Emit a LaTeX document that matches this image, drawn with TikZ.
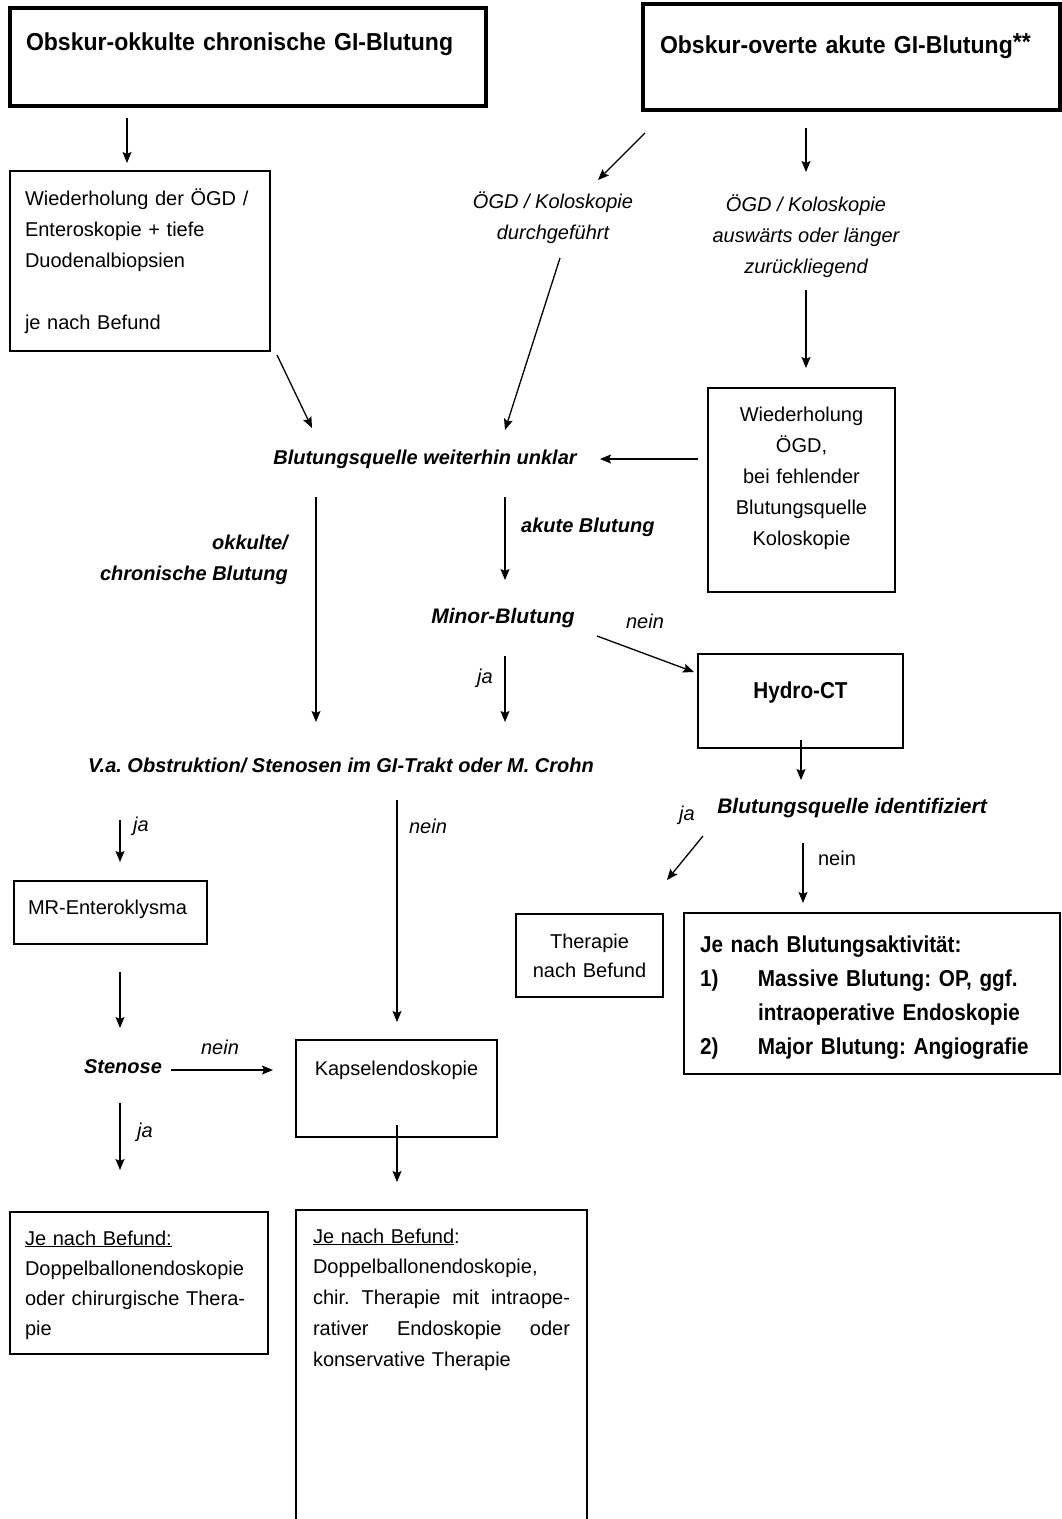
\documentclass[tikz,border=0pt]{standalone}
\usepackage{fontspec}
\setmainfont{Liberation Sans}
\newfontfamily\schmal{Liberation Sans}[FakeStretch=0.9]
\newfontfamily\titelfont{Liberation Sans}[FakeStretch=0.94]
\usetikzlibrary{arrows.meta}
\frenchspacing

\begin{document}
\begin{tikzpicture}[x=1pt,y=-1pt]
\tikzstyle{kasten}=[
        draw,
        line width=2pt,
        anchor=north west,
        outer sep=0pt,
        inner ysep=0pt,
        inner xsep=15pt,
        align=left,
        font=\fontsize{20}{31}\selectfont
]
\tikzstyle{titel}=[kasten,line width=4pt,font=\titelfont\fontsize{24.5}{28}\selectfont\bfseries]
\tikzstyle{schmalbox}=[kasten,font=\schmal\fontsize{23}{34}\selectfont\bfseries]
\tikzstyle{frage}=[inner sep=2pt,align=center,font=\fontsize{20}{31}\selectfont\bfseries\itshape]
\tikzstyle{weg}=[inner sep=2pt,align=center,font=\fontsize{20}{31}\selectfont\itshape]
%stil der pfeile
\tikzstyle{pfeil}=[-{Stealth[length=11pt,width=9pt,inset=2pt]},line width=1.3pt]
\useasboundingbox (0,0) rectangle (1062,1519);
%placement der kaesten
\node[titel,inner xsep=16pt,text width=444pt,text height=42.5pt,text depth=55.5pt] (okkult) at (10,8) {Obskur-okkulte chronische GI-Blutung};
\node[titel,inner xsep=17pt,text width=383pt,text height=49pt,text depth=57pt] (overt) at (643,4) {Obskur-overte akute GI-Blutung\raisebox{3pt}{**}};
\node[kasten,text width=230pt,text height=34pt,text depth=146pt] (wdhlinks) at (10,171) {Wiederholung der ÖGD /\\Enteroskopie + tiefe\\Duodenalbiopsien\\[31pt]je nach Befund};
\node[kasten,align=center,inner xsep=10pt,text width=167pt,text height=33pt,text depth=171pt] (wdhrechts) at (708,388) {Wiederholung\\ÖGD,\\bei fehlender\\Blutungsquelle\\Koloskopie};
\node[schmalbox,align=center,inner xsep=10pt,text width=185pt,text height=44pt,text depth=50pt] (hydro) at (698,654) {Hydro-CT};
\node[kasten,align=center,inner xsep=8pt,text width=131pt,text height=34pt,text depth=49pt,font=\fontsize{20}{29}\selectfont] (therapie) at (516,914) {Therapie\\nach Befund};
\node[schmalbox,line width=2.5pt,inner xsep=16pt,text width=344pt,text height=39pt,text depth=122pt] (jenach) at (684,913) {Je nach Blutungsaktivität:\\\makebox[58pt][l]{1)}Massive Blutung: OP, ggf.\\\hspace*{58pt}intraoperative Endoskopie\\\makebox[58pt][l]{2)}Major Blutung: Angiografie};
\node[kasten,inner xsep=14pt,text width=165pt,text height=33pt,text depth=30pt] (mr) at (14,881) {MR-Enteroklysma};
\node[kasten,align=center,inner xsep=10pt,text width=181pt,text height=35pt,text depth=62pt] (kapsel) at (296,1040) {Kapselendoskopie};
\node[kasten,text width=228pt,text height=33pt,text depth=109pt,font=\fontsize{20}{30}\selectfont] (befundl) at (10,1212) {\underline{Je nach Befund:}\\Doppelballonendoskopie\\oder chirurgische Thera-\\pie};
\node[kasten,inner xsep=17pt,text width=257pt,text height=33pt,text depth=287pt,font=\fontsize{20}{30.8}\selectfont] (befundm) at (296,1210) {\underline{Je nach Befund}:\\Doppelballonendoskopie,\\chir.\hfill Therapie\hfill mit\hfill intraope-\\rativer\hfill Endoskopie\hfill oder\\konservative Therapie};
%placement der texte
\node[weg] (durch) at (553,218) {ÖGD / Koloskopie\\durchgeführt};
\node[weg] (ausw) at (806,236) {ÖGD / Koloskopie\\auswärts oder länger\\zurückliegend};
\node[frage] (unklar) at (425,459) {Blutungsquelle weiterhin unklar};
\node[frage,align=right,anchor=east] (okklab) at (290,560) {okkulte/\\chronische Blutung};
\node[frage,anchor=west] (akutlab) at (519,527) {akute Blutung};
\node[frage,font=\fontsize{21}{31}\selectfont\bfseries\itshape] (minor) at (503,618) {Minor-Blutung};
\node[weg] (neinhydro) at (645,621) {nein};
\node[weg] (jaminor) at (485,678) {ja};
\node[frage] (va) at (341,765) {V.a. Obstruktion/ Stenosen im GI-Trakt oder M. Crohn};
\node[frage,font=\fontsize{21}{31}\selectfont\bfseries\itshape] (ident) at (852,808) {Blutungsquelle identifiziert};
\node[weg] (jather) at (687,815) {ja};
\node[weg,font=\fontsize{20}{31}\selectfont] (neinjenach) at (837,858) {nein};
\node[weg] (java) at (141,826) {ja};
\node[weg] (neinva) at (428,826) {nein};
\node[frage] (stenose) at (123,1067) {Stenose};
\node[weg] (neinsten) at (220,1047) {nein};
\node[weg] (jasten) at (145,1132) {ja};
%placement der pfeile
\draw[pfeil] ([xshift=117pt,yshift=-12pt]okkult.south west) -- ([xshift=117pt,yshift=8pt]wdhlinks.north west);
\draw[pfeil] ([xshift=2pt,yshift=-23pt]overt.south west) -- ([xshift=45pt,yshift=38pt]durch.center);
\draw[pfeil] ([xshift=163pt,yshift=-18pt]overt.south west) -- ([yshift=64pt]ausw.center);
\draw[pfeil] ([yshift=-54pt]ausw.center) -- ([xshift=98pt,yshift=20pt]wdhrechts.north west);
\draw[pfeil] ([xshift=-10pt,yshift=-71pt]wdhrechts.north west) -- ([xshift=175pt]unklar.center);
\draw[pfeil] ([xshift=7pt,yshift=-4pt]wdhlinks.south east) -- ([xshift=-113pt,yshift=31pt]unklar.center);
\draw[pfeil] ([xshift=7pt,yshift=-40pt]durch.center) -- ([xshift=80pt,yshift=29pt]unklar.center);
\draw[pfeil] ([xshift=-109pt,yshift=-38pt]unklar.center) -- ([xshift=-25pt,yshift=43pt]va.center);
\draw[pfeil] ([xshift=80pt,yshift=-38pt]unklar.center) -- ([xshift=2pt,yshift=38pt]minor.center);
\draw[pfeil] ([xshift=94pt,yshift=-18pt]minor.center) -- ([xshift=-4pt,yshift=-18pt]hydro.north west);
\draw[pfeil] ([xshift=2pt,yshift=-38pt]minor.center) -- ([xshift=164pt,yshift=43pt]va.center);
\draw[pfeil] ([xshift=103pt,yshift=8pt]hydro.south west) -- ([xshift=-51pt,yshift=28pt]ident.center);
\draw[pfeil] ([xshift=-149pt,yshift=-28pt]ident.center) -- ([xshift=4pt,yshift=34pt]therapie.north east);
\draw[pfeil] ([xshift=-49pt,yshift=-35pt]ident.center) -- ([xshift=119pt,yshift=10pt]jenach.north west);
\draw[pfeil] ([xshift=-221pt,yshift=-55pt]va.center) -- ([xshift=106pt,yshift=19pt]mr.north west);
\draw[pfeil] ([xshift=56pt,yshift=-35pt]va.center) -- ([xshift=101pt,yshift=18pt]kapsel.north west);
\draw[pfeil] ([xshift=106pt,yshift=-28pt]mr.south west) -- ([xshift=-3pt,yshift=39pt]stenose.center);
\draw[pfeil] ([xshift=48pt,yshift=-3pt]stenose.center) -- ([xshift=-23pt,yshift=-30pt]kapsel.north west);
\draw[pfeil] ([xshift=-3pt,yshift=-36pt]stenose.center) -- ([xshift=110pt,yshift=42pt]befundl.north west);
\draw[pfeil] ([xshift=101pt,yshift=12pt]kapsel.south west) -- ([xshift=101pt,yshift=28pt]befundm.north west);
\end{tikzpicture}
\end{document}
